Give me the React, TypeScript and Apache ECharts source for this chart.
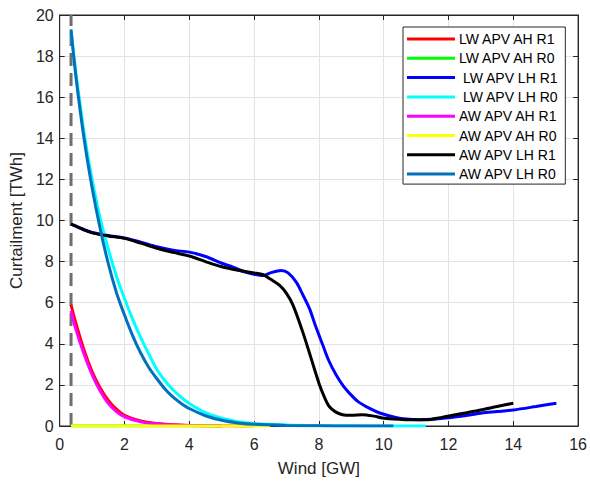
import React, { useEffect, useRef } from "react";
import * as echarts from "echarts";

const names = [
  "LW APV AH R1",
  "LW APV AH R0",
  " LW APV LH R1",
  " LW APV LH R0",
  "AW APV AH R1",
  "AW APV AH R0",
  "AW APV LH R1",
  "AW APV LH R0",
];
const colors = ["#ff0000", "#00ff00", "#0000ff", "#00ffff", "#ff00ff", "#ffff00", "#000000", "#0072bd"];

const lwAhR1: number[][] = [
  [0.35, 5.9], [0.5, 5.0], [0.75, 3.7], [1.0, 2.65], [1.25, 1.85], [1.5, 1.25], [1.75, 0.82],
  [2.0, 0.52], [2.5, 0.24], [3.0, 0.12], [3.5, 0.06], [4.0, 0.03], [5.0, 0.01], [6.0, 0.0],
];
const lwAhR0: number[][] = [[0.35, 0.0], [2.0, 0.0], [4.0, 0.0], [5.0, 0.0]];
const lwLhR1: number[][] = [
  [0.35, 9.82], [0.75, 9.55], [1.0, 9.42], [1.5, 9.27], [2.0, 9.15], [2.5, 8.95], [3.0, 8.72],
  [3.5, 8.55], [4.0, 8.46], [4.5, 8.25], [5.0, 7.92], [5.35, 7.73], [5.7, 7.5], [6.0, 7.38],
  [6.28, 7.32], [6.5, 7.45], [6.84, 7.57], [7.05, 7.45], [7.3, 7.0], [7.5, 6.4], [7.71, 5.71],
  [7.9, 4.85], [8.12, 3.94], [8.3, 3.2], [8.53, 2.49], [8.75, 1.95], [8.94, 1.6], [9.2, 1.2],
  [9.55, 0.87], [9.9, 0.62], [10.37, 0.42], [10.7, 0.34], [11.09, 0.31], [11.5, 0.33],
  [11.91, 0.39], [12.5, 0.5], [13.03, 0.63], [13.5, 0.7], [14.0, 0.78], [14.7, 0.95], [15.33, 1.11],
];
const lwLhR0: number[][] = [
  [0.35, 19.2], [0.5, 17.2], [0.75, 14.3], [1.0, 12.0], [1.25, 10.1], [1.5, 8.6], [1.75, 7.3],
  [2.0, 6.2], [2.25, 5.2], [2.5, 4.3], [2.75, 3.5], [3.0, 2.75], [3.25, 2.2], [3.5, 1.75],
  [3.75, 1.4], [4.0, 1.1], [4.5, 0.65], [5.0, 0.38], [5.5, 0.21], [6.0, 0.12], [7.0, 0.05],
  [8.0, 0.02], [9.0, 0.01], [10.0, 0.0], [11.3, 0.0],
];
const awAhR1: number[][] = [
  [0.35, 5.6], [0.5, 4.7], [0.75, 3.5], [1.0, 2.5], [1.25, 1.7], [1.5, 1.1], [1.75, 0.7],
  [2.0, 0.45], [2.5, 0.2], [3.0, 0.1], [3.5, 0.05], [4.0, 0.02], [5.0, 0.0],
];
const awAhR0: number[][] = [[0.35, 0.0], [2.0, 0.0], [4.0, 0.0], [6.5, 0.0]];
const awLhR1: number[][] = [
  [0.35, 9.82], [0.75, 9.55], [1.0, 9.4], [1.5, 9.25], [2.0, 9.13], [2.5, 8.9], [3.0, 8.65],
  [3.5, 8.45], [4.0, 8.27], [4.5, 8.0], [5.0, 7.75], [5.5, 7.58], [6.0, 7.45], [6.28, 7.36],
  [6.5, 7.15], [6.79, 6.84], [7.0, 6.45], [7.2, 5.88], [7.5, 4.58], [7.76, 3.29], [8.02, 2.0],
  [8.2, 1.3], [8.32, 0.95], [8.5, 0.7], [8.73, 0.55], [9.0, 0.52], [9.35, 0.55], [9.7, 0.48],
  [9.96, 0.39], [10.3, 0.34], [10.68, 0.31], [11.0, 0.3], [11.39, 0.31], [11.8, 0.42],
  [12.21, 0.55], [12.6, 0.66], [13.03, 0.79], [13.5, 0.95], [14.0, 1.11],
];
const awLhR0: number[][] = [
  [0.35, 19.3], [0.5, 17.0], [0.75, 14.0], [1.0, 11.6], [1.25, 9.6], [1.5, 7.9], [1.75, 6.5],
  [2.0, 5.4], [2.25, 4.4], [2.5, 3.55], [2.75, 2.85], [3.0, 2.3], [3.25, 1.8], [3.5, 1.4],
  [3.75, 1.1], [4.0, 0.85], [4.5, 0.5], [5.0, 0.28], [5.5, 0.15], [6.0, 0.08], [7.0, 0.03],
  [8.0, 0.01], [9.0, 0.0], [10.3, 0.0],
];
const dashedX = 0.35;
const dashedLine: number[][] = [[dashedX, 0], [dashedX, 20]];

const seriesData = [lwAhR1, lwAhR0, lwLhR1, lwLhR0, awAhR1, awAhR0, awLhR1, awLhR0];

const FONT = "Liberation Sans, Arial, Helvetica, sans-serif";
const AX = "#262626";

export default function App() {
  const ref = useRef<HTMLDivElement>(null);
  useEffect(() => {
    if (!ref.current) return;
    const chart = echarts.init(ref.current, null, { renderer: "svg" });
    const lineSeries = seriesData.map((d, i) => ({
      type: "line",
      name: names[i],
      data: d,
      showSymbol: false,
      symbol: "none",
      smooth: 0.3,
      color: colors[i],
      lineStyle: { color: colors[i], width: 3 },
      z: 3 + i,
    }));
    chart.setOption({
      animation: false,
      backgroundColor: "#ffffff",
      textStyle: { fontFamily: FONT },
      grid: { left: 59, right: 10, top: 15, bottom: 54, show: true, borderColor: AX, borderWidth: 1, backgroundColor: "#fff" },
      legend: {
        data: names,
        orient: "vertical",
        left: 403,
        top: 27,
        icon: "rect",
        itemWidth: 48,
        itemHeight: 3,
        itemGap: 5.3,
        padding: [5, 7, 3, 4],
        backgroundColor: "#ffffff",
        borderColor: AX,
        borderWidth: 1,
        borderRadius: 0,
        textStyle: { fontFamily: FONT, fontSize: 14, color: "#000", lineHeight: 14, padding: [0, 0, 0, -1] },
      },
      xAxis: [
        {
          type: "value",
          min: 0,
          max: 16,
          interval: 2,
          name: "Wind [GW]",
          nameLocation: "middle",
          nameGap: 34,
          nameTextStyle: { fontFamily: FONT, fontSize: 17, color: AX },
          axisLine: { show: true, onZero: false, lineStyle: { color: AX, width: 1 } },
          axisTick: { show: true, inside: true, length: 5, lineStyle: { color: AX } },
          axisLabel: { fontFamily: FONT, fontSize: 16, color: AX, margin: 10 },
          splitLine: { show: true, lineStyle: { color: "#e3e3e3", width: 1 } },
        },
        {
          type: "value",
          position: "top",
          min: 0,
          max: 16,
          interval: 2,
          axisLine: { show: true, onZero: false, lineStyle: { color: AX } },
          axisTick: { show: true, inside: true, length: 5, lineStyle: { color: AX } },
          axisLabel: { show: false },
          splitLine: { show: false },
        },
      ],
      yAxis: [
        {
          type: "value",
          min: 0,
          max: 20,
          interval: 2,
          name: "Curtailment [TWh]",
          nameLocation: "middle",
          nameGap: 30,
          nameTextStyle: { fontFamily: FONT, fontSize: 17, color: AX },
          axisLine: { show: true, onZero: false, lineStyle: { color: AX, width: 1 } },
          axisTick: { show: true, inside: true, length: 5, lineStyle: { color: AX } },
          axisLabel: { fontFamily: FONT, fontSize: 16, color: AX, margin: 6 },
          splitLine: { show: true, lineStyle: { color: "#e3e3e3", width: 1 } },
        },
        {
          type: "value",
          position: "right",
          min: 0,
          max: 20,
          interval: 2,
          axisLine: { show: true, onZero: false, lineStyle: { color: AX } },
          axisTick: { show: true, inside: true, length: 5, lineStyle: { color: AX } },
          axisLabel: { show: false },
          splitLine: { show: false },
        },
      ],
      series: [
        {
          type: "line",
          name: "threshold",
          data: dashedLine,
          showSymbol: false,
          symbol: "none",
          lineStyle: { color: "#6e6e6e", width: 3, type: [13, 7] },
          z: 2,
        },
        ...lineSeries,
      ],
    });
    return () => chart.dispose();
  }, []);
  return <div ref={ref} style={{ position: "absolute", left: 0, top: 0, width: 590, height: 482 }} />;
}
